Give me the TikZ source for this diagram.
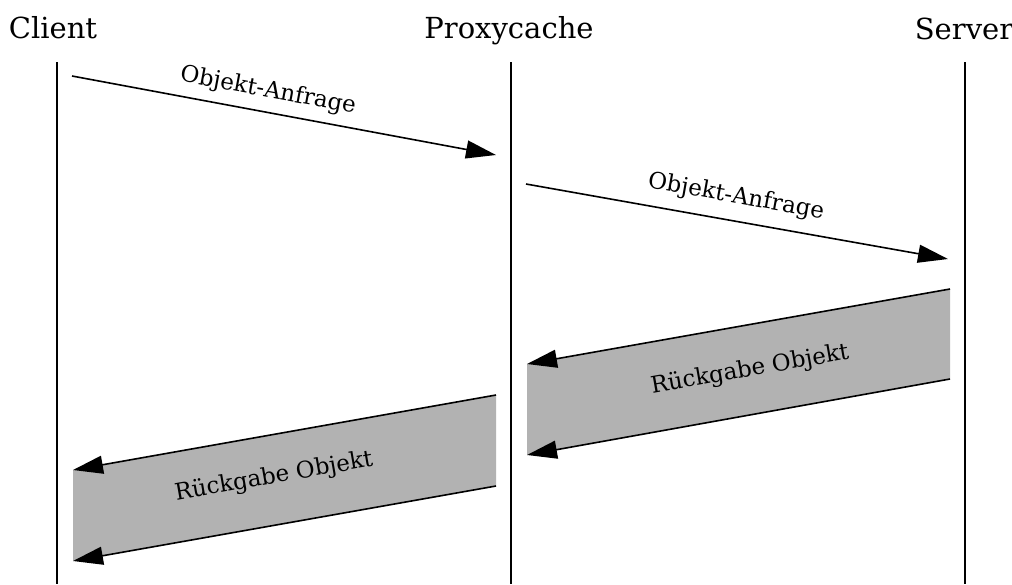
\documentclass[tikz,border=0pt]{standalone}
\usepackage{fontspec}
\setmainfont{DejaVu Serif}
\usetikzlibrary{arrows.meta}
\begin{document}
\begin{tikzpicture}[x=1pt,y=-1pt,
  lifeline/.style={line width=1.6pt},
  msg/.style={line width=1.6pt,-{Triangle[length=30pt,width=18pt]}},
  band/.style={fill=black!30,draw=none},
  title/.style={font=\fontsize{29}{33}\selectfont,anchor=base,inner sep=0pt},
  lbl/.style={font=\fontsize{23}{27}\selectfont,inner sep=0pt}]
\useasboundingbox (0,0) rectangle (1012,584);

% participants
\node[title] (client) at (53,38) {Client};
\node[title] (proxy) at (509,38) {Proxycache};
\node[title] (server) at (964,39) {Server};

% lifelines
\coordinate (cTop) at (57,62);  \coordinate (cBot) at (57,584);
\coordinate (pTop) at (511,62); \coordinate (pBot) at (511,584);
\coordinate (sTop) at (965,62); \coordinate (sBot) at (965,584);
\draw[lifeline] (cTop) -- (cBot);
\draw[lifeline] (pTop) -- (pBot);
\draw[lifeline] (sTop) -- (sBot);

% request client -> proxy
\coordinate (r1s) at (72,76);  \coordinate (r1e) at (496,155);
\draw[msg] (r1s) -- (r1e);
\node[lbl,rotate=-10.6] (r1l) at (268,91) {Objekt-Anfrage};

% request proxy -> server
\coordinate (r2s) at (526,184); \coordinate (r2e) at (948,259);
\draw[msg] (r2s) -- (r2e);
\node[lbl,rotate=-10.1] (r2l) at (736,197) {Objekt-Anfrage};

% reply server -> proxy (wide band)
\coordinate (b1a) at (950,289); \coordinate (b1b) at (527,364);
\coordinate (b1c) at (527,455); \coordinate (b1d) at (950,379);
\fill[band] (b1a) -- (b1b) -- (b1c) -- (b1d) -- cycle;
\draw[msg] (b1a) -- (b1b);
\draw[msg] (b1d) -- (b1c);
\node[lbl,rotate=10] (b1l) at (750,370) {Rückgabe Objekt};

% reply proxy -> client (wide band)
\coordinate (b2a) at (496,395); \coordinate (b2b) at (73,470);
\coordinate (b2c) at (73,561);  \coordinate (b2d) at (496,486);
\fill[band] (b2a) -- (b2b) -- (b2c) -- (b2d) -- cycle;
\draw[msg] (b2a) -- (b2b);
\draw[msg] (b2d) -- (b2c);
\node[lbl,rotate=10] (b2l) at (274,477) {Rückgabe Objekt};
\end{tikzpicture}
\end{document}
